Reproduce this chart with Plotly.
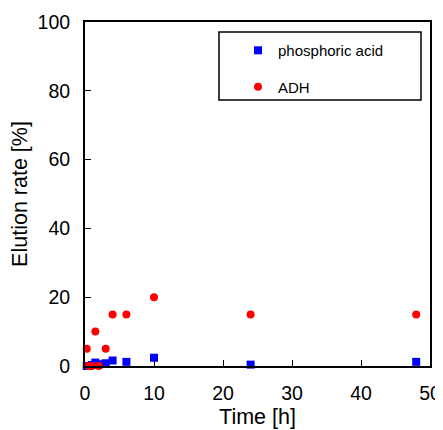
import plotly.graph_objects as go

time_h = [0.25, 0.5, 1, 1.5, 2, 3, 4, 6, 10, 24, 48]
phosphoric_acid = [0.0, 0.0, 0.3, 1.0, 0.5, 0.8, 1.6, 1.2, 2.4, 0.4, 1.2]
adh = [5, 0, 0, 10, 0, 5, 15, 15, 20, 15, 15]

x_ticks = [0, 10, 20, 30, 40, 50]
y_ticks = [0, 20, 40, 60, 80, 100]

FONT = "Liberation Sans, Arial, sans-serif"

fig = go.Figure()
fig.add_trace(go.Scatter(
    x=time_h, y=phosphoric_acid, mode="markers", name="phosphoric acid",
    legendgroup="a",
    marker=dict(symbol="square", size=8, color="#0000ff"),
    cliponaxis=False,
))
fig.add_trace(go.Scatter(
    x=time_h, y=adh, mode="markers", name="ADH",
    legendgroup="b",
    marker=dict(symbol="circle", size=8, color="#ff0000"),
    cliponaxis=False,
))

axis_common = dict(
    showline=True, linecolor="black", linewidth=2, mirror=True,
    ticks="inside", ticklen=6, tickwidth=1, tickcolor="black",
    showgrid=False, zeroline=False, automargin=False,
    ticklabeloverflow="allow",
    tickfont=dict(family=FONT, size=19.5, color="black"),
)

# legend frame (drawn as a box around the legend entries)
fig.add_shape(type="rect", xref="paper", yref="paper",
              x0=0.3884, x1=0.9739, y0=0.7733, y1=0.9709,
              line=dict(color="black", width=1.5), fillcolor="white",
              layer="above")

fig.update_layout(
    width=443, height=430,
    margin=dict(l=77, r=21, t=14, b=72),
    paper_bgcolor="white", plot_bgcolor="white",
    font=dict(family=FONT, color="black"),
    xaxis=dict(range=[0, 50], tickvals=x_ticks, ticklabelstandoff=9,
               title=dict(text="Time [h]", font=dict(family=FONT, size=21.5), standoff=6),
               **axis_common),
    yaxis=dict(range=[0, 100], tickvals=y_ticks, ticklabelstandoff=9,
               title=dict(text="Elution rate [%]", font=dict(family=FONT, size=21.5), standoff=6),
               **axis_common),
    legend=dict(
        x=0.4435, y=0.965, xanchor="left", yanchor="top",
        bgcolor="rgba(0,0,0,0)", borderwidth=0,
        font=dict(family=FONT, size=15, color="black"),
        tracegroupgap=14, itemwidth=30,
    ),
    showlegend=True,
)

fig.write_html("out.html")
